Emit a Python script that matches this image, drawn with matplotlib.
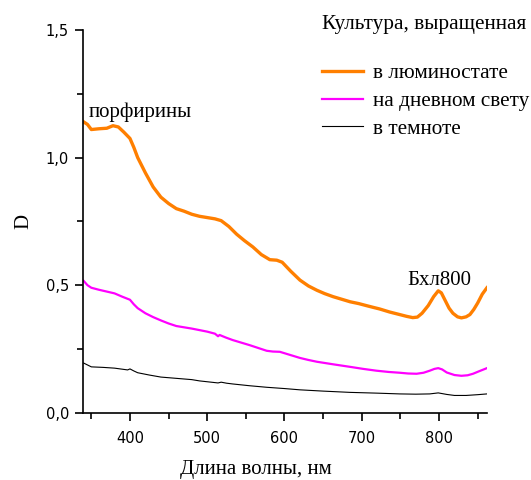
import matplotlib.pyplot as plt
from matplotlib.ticker import MultipleLocator, FuncFormatter

# wavelength grid, nm
wl_lum = [340, 345, 350, 360, 370, 378, 385, 392, 400, 405, 410, 420, 430, 440, 450,
          460, 470, 480, 490, 500, 510, 518, 528, 538, 548, 559, 570, 581, 590, 597,
          608, 620, 631, 642, 652, 663, 674, 685, 696, 706, 715, 723, 736, 749, 758,
          766, 772, 778, 786, 793, 799, 803, 808, 813, 818, 824, 829, 835, 840, 845,
          850, 856, 862]
d_lum = [1.14, 1.13, 1.11, 1.113, 1.115, 1.125, 1.12, 1.10, 1.075, 1.04, 1.00, 0.94,
         0.885, 0.845, 0.82, 0.80, 0.79, 0.778, 0.77, 0.765, 0.76, 0.753, 0.73, 0.70,
         0.675, 0.65, 0.62, 0.60, 0.598, 0.59, 0.555, 0.52, 0.497, 0.48, 0.467, 0.455,
         0.445, 0.435, 0.428, 0.42, 0.413, 0.407, 0.395, 0.385, 0.378, 0.373, 0.375,
         0.39, 0.42, 0.455, 0.478, 0.47, 0.44, 0.41, 0.39, 0.376, 0.372, 0.376, 0.385,
         0.405, 0.43, 0.465, 0.49]

wl_day = [340, 345, 350, 360, 370, 380, 390, 400, 405, 410, 420, 430, 440, 450, 460,
          470, 480, 490, 500, 510, 514, 516, 524, 533, 544, 555, 566, 577, 585, 594,
          607, 620, 631, 642, 663, 685, 702, 719, 735, 749, 760, 771, 780, 788, 794,
          799, 804, 810, 820, 829, 837, 844, 852, 862]
d_day = [0.517, 0.50, 0.49, 0.482, 0.475, 0.468, 0.455, 0.443, 0.425, 0.41, 0.39,
         0.375, 0.362, 0.35, 0.34, 0.335, 0.33, 0.324, 0.318, 0.31, 0.30, 0.305, 0.295,
         0.285, 0.275, 0.265, 0.254, 0.243, 0.24, 0.239, 0.227, 0.215, 0.207, 0.2,
         0.19, 0.18, 0.172, 0.165, 0.16, 0.157, 0.154, 0.153, 0.157, 0.165, 0.172,
         0.175, 0.17, 0.158, 0.148, 0.145, 0.147, 0.153, 0.163, 0.175]

wl_dark = [340, 350, 365, 380, 397, 400, 405, 410, 425, 440, 460, 480, 490, 505, 514,
           518, 525, 533, 555, 577, 600, 620, 650, 685, 720, 749, 770, 788, 799, 810,
           820, 835, 850, 862]
d_dark = [0.195, 0.18, 0.178, 0.175, 0.168, 0.172, 0.164, 0.157, 0.148, 0.14, 0.135,
          0.13, 0.125, 0.12, 0.117, 0.12, 0.116, 0.113, 0.106, 0.10, 0.095, 0.09,
          0.085, 0.08, 0.077, 0.074, 0.073, 0.074, 0.078, 0.072, 0.068, 0.068, 0.071,
          0.074]

serif = 'Liberation Serif'
plt.rcParams['font.family'] = 'DejaVu Sans'

fig = plt.figure(figsize=(5.31, 4.8), dpi=100)
ax = fig.add_axes([0.156, 0.14, 0.761, 0.7975])

ax.plot(wl_lum, d_lum, color='#ff7f00', lw=2.4, label='в люминостате')
ax.plot(wl_day, d_day, color='#ff00ff', lw=1.6, label='на дневном свету')
ax.plot(wl_dark, d_dark, color='black', lw=0.8, label='в темноте')

ax.set_xlim(339, 862)
ax.set_ylim(0, 1.5)
ax.spines['top'].set_visible(False)
ax.spines['right'].set_visible(False)
ax.spines['left'].set_linewidth(1.2)
ax.spines['bottom'].set_linewidth(1.2)

ax.xaxis.set_major_locator(MultipleLocator(100))
ax.xaxis.set_minor_locator(MultipleLocator(50))
ax.yaxis.set_major_locator(MultipleLocator(0.5))
ax.yaxis.set_minor_locator(MultipleLocator(0.25))
ax.yaxis.set_major_formatter(FuncFormatter(lambda v, p: f'{v:.1f}'.replace('.', ',')))
ax.tick_params(which='major', direction='out', length=6, width=1.2, labelsize=10.5)
ax.tick_params(axis='x', which='major', pad=7)
ax.tick_params(axis='y', which='major', pad=4)
ax.tick_params(which='minor', direction='out', length=4, width=1.2)

ax.set_xlabel('Длина волны, нм', family=serif, fontsize=15, labelpad=10, x=0.428)
ax.set_ylabel('D', family=serif, fontsize=15, labelpad=9)

ax.text(346, 1.16, 'порфирины', family=serif, fontsize=15)
ax.text(759, 0.5, 'Бхл800', family=serif, fontsize=15)

leg = fig.legend(*ax.get_legend_handles_labels(), loc='upper left',
                 bbox_to_anchor=(0.587, 0.99), frameon=False, borderpad=0,
                 title='Культура, выращенная', prop={'family': serif, 'size': 15.3},
                 handlelength=1.9, handletextpad=0.5, labelspacing=0.36,
                 alignment='left')
leg.get_title().set_family(serif)
leg.get_title().set_fontsize(15.3)
leg._legend_box.sep = 21

fig.savefig('out.png', dpi=100)
